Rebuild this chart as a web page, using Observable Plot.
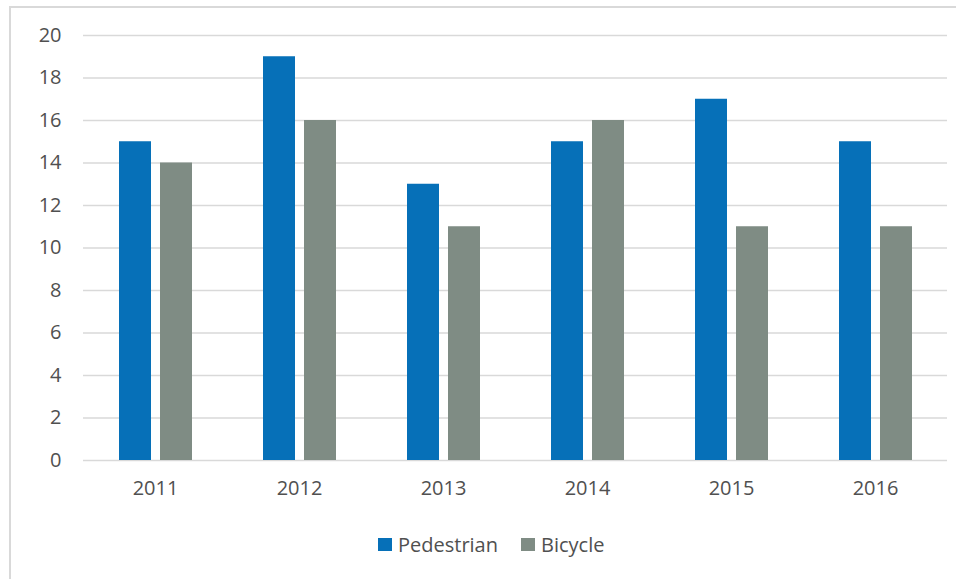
<!DOCTYPE html>
<html><head><meta charset="utf-8">
<script src="https://cdn.jsdelivr.net/npm/d3@7"></script>
<script src="https://cdn.jsdelivr.net/npm/@observablehq/plot@0.6"></script>
<style>
html,body{margin:0;padding:0;width:956px;height:579px;overflow:hidden;background:#fff;}
#frame{position:absolute;left:9px;top:6px;width:990px;height:640px;border:2px solid #d9d9d9;box-sizing:border-box;}
#chart{position:absolute;left:0;top:0;}
#legend{position:absolute;left:378px;top:528px;font-family:"Open Sans",sans-serif;}
#legend *{font-size:20px !important;color:#505050 !important;font-family:"Open Sans",sans-serif !important;}
#legend svg{margin-right:6px !important;}
#legend span{margin-right:23px !important;}
</style></head><body>
<div id="frame"></div><div id="chart"></div><div id="legend"></div>
<script>
const years = ["2011","2012","2013","2014","2015","2016"];
const pedestrian = [15,19,13,15,17,15];
const bicycle = [14,16,11,16,11,11];
const series = ["Pedestrian","Bicycle"];
const colors = ["#0670b8","#7f8c84"];
const yTicks = [0,2,4,6,8,10,12,14,16,18,20];

const data = years.flatMap((yr,i)=>[
  {year:yr, series:series[0], value:pedestrian[i]},
  {year:yr, series:series[1], value:bicycle[i]}
]);

const chart = Plot.plot({
  width:956, height:510,
  marginLeft:81, marginRight:8, marginTop:35, marginBottom:50,
  style:{fontFamily:"'Open Sans', sans-serif", fontSize:"20px", color:"#505050", background:"transparent"},
  fx:{domain:years, padding:0, label:null, tickSize:0, tickPadding:20, axis:"bottom"},
  x:{domain:series, paddingInner:0.22, paddingOuter:0.84, axis:null},
  y:{domain:[0,20], ticks:yTicks, label:null, tickSize:0, tickPadding:22},
  color:{domain:series, range:colors},
  marks:[
    Plot.gridY(yTicks, {stroke:"#d9d9d9", strokeOpacity:1, strokeWidth:1.5}),
    Plot.barY(data, {fx:"year", x:"series", y:"value", fill:"series"})
  ]
});
document.getElementById("chart").appendChild(chart);

const leg = Plot.legend({color:{domain:series, range:colors}, legend:"swatches", swatchWidth:14, swatchHeight:13});
document.getElementById("legend").appendChild(leg);
</script>
</body></html>
